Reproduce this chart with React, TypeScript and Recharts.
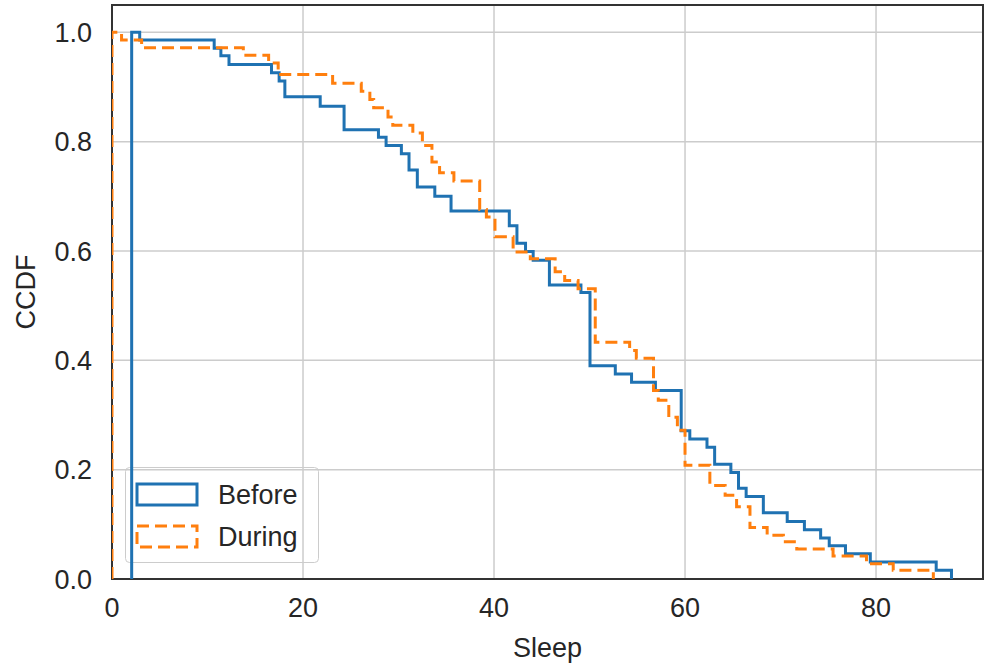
import React from 'react';
import { LineChart, Line, XAxis, YAxis, CartesianGrid, ReferenceArea } from 'recharts';

// step points of the complementary ECDF
const beforeX = [2.06, 2.06, 2.9, 10.7, 11.4, 12.25, 16.7, 17.5, 18.1, 21.8, 24.3, 27.9, 28.7, 30.3, 31.1, 31.97, 33.8, 35.5, 41.6, 42.4, 43.3, 44.1, 45.8, 49.1, 50.05, 52.7, 54.4, 56.9, 59.6, 60.5, 62.3, 63.1, 64.8, 65.6, 66.4, 68.2, 70.7, 72.5, 74.2, 75.1, 76.8, 79.4, 86.3, 87.9];
const beforeCcdf = [0, 1.0, 0.986, 0.971, 0.957, 0.941, 0.926, 0.911, 0.882, 0.865, 0.822, 0.808, 0.793, 0.778, 0.748, 0.717, 0.7, 0.673, 0.646, 0.614, 0.599, 0.583, 0.538, 0.524, 0.39, 0.375, 0.36, 0.345, 0.271, 0.256, 0.241, 0.21, 0.195, 0.166, 0.151, 0.121, 0.105, 0.09, 0.075, 0.061, 0.046, 0.031, 0.016, 0];

const duringX = [0, 0, 1.0, 3.1, 13.75, 16.4, 17.4, 23.1, 26.1, 27.0, 27.4, 28.9, 29.4, 31.5, 32.5, 33.5, 34.3, 35.8, 38.5, 39.2, 40.1, 42.0, 43.8, 46.4, 47.4, 48.8, 50.6, 54.2, 54.9, 56.7, 57.2, 58.3, 59.2, 60.0, 62.6, 64.2, 65.4, 66.8, 68.6, 70.3, 71.7, 75.5, 79.0, 81.8, 86.0];
const duringCcdf = [0, 1.0, 0.986, 0.972, 0.958, 0.944, 0.923, 0.907, 0.892, 0.877, 0.862, 0.845, 0.83, 0.816, 0.793, 0.763, 0.743, 0.728, 0.676, 0.662, 0.626, 0.598, 0.586, 0.562, 0.546, 0.531, 0.433, 0.418, 0.404, 0.345, 0.327, 0.296, 0.272, 0.208, 0.171, 0.153, 0.132, 0.094, 0.08, 0.068, 0.055, 0.042, 0.028, 0.016, 0];

const xTicks = [0, 20, 40, 60, 80];
const yTicks = [0, 0.2, 0.4, 0.6, 0.8, 1.0];
const X_MAX = 91.2;
const Y_MAX = 1.05;

const BLUE = '#1f72b2';
const ORANGE = '#ff7f0e';
const FONT = '"Liberation Sans", Arial, sans-serif';
const TEXT = '#262626';
const FS = 27;

const beforeData = beforeX.map((x, i) => ({ x, ccdf: beforeCcdf[i] }));
const duringData = duringX.map((x, i) => ({ x, ccdf: duringCcdf[i] }));

// legend sits under the chart svg, lines show through it like in the reference
const LegendBox = () => (
  <svg width={194} height={96} style={{ position: 'absolute', left: 125, top: 467 }}>
    <rect x={0.5} y={0.5} width={193} height={95} rx={4} fill="#fff" stroke="#cccccc" />
    <rect x={12} y={17} width={60} height={21} fill="none" stroke={BLUE} strokeWidth={3} />
    <text x={93} y={28} fontSize={FS} fill={TEXT} fontFamily={FONT} dominantBaseline="central">Before</text>
    <rect x={12} y={59} width={60} height={21} fill="none" stroke={ORANGE} strokeWidth={3} strokeDasharray="12 6" />
    <text x={93} y={70} fontSize={FS} fill={TEXT} fontFamily={FONT} dominantBaseline="central">During</text>
  </svg>
);

export default function App() {
  return (
    <div style={{ position: 'absolute', left: 0, top: 0, width: 985, height: 664, background: '#fff' }}>
      <LegendBox />
      <div style={{ position: 'absolute', left: 0, top: 0 }}>
        <LineChart width={985} height={664} margin={{ top: 5, right: 2, left: 0, bottom: 0 }}>
          <CartesianGrid stroke="#cccccc" strokeWidth={1.5} horizontalValues={yTicks} verticalValues={xTicks} />
          <XAxis
            type="number"
            dataKey="x"
            domain={[0, X_MAX]}
            ticks={xTicks}
            allowDataOverflow
            height={85}
            axisLine={false}
            tickLine={false}
            tickSize={0}
            tickMargin={19}
            tick={{ fontSize: FS, fill: TEXT, fontFamily: FONT }}
            label={{ value: 'Sleep', position: 'insideBottom', offset: 7, fontSize: FS, fill: TEXT, fontFamily: FONT }}
          />
          <YAxis
            type="number"
            domain={[0, Y_MAX]}
            ticks={yTicks}
            allowDataOverflow
            width={112}
            axisLine={false}
            tickLine={false}
            tickSize={0}
            tickMargin={20}
            tickFormatter={(v: number) => v.toFixed(1)}
            tick={{ fontSize: FS, fill: TEXT, fontFamily: FONT }}
            label={{
              content: ({ viewBox }: any) => (
                <text
                  x={26}
                  y={viewBox.y + viewBox.height / 2}
                  transform={`rotate(-90, 26, ${viewBox.y + viewBox.height / 2})`}
                  textAnchor="middle"
                  dominantBaseline="central"
                  fontSize={FS}
                  fill={TEXT}
                  fontFamily={FONT}
                >
                  CCDF
                </text>
              ),
            }}
          />
          <Line
            data={beforeData}
            dataKey="ccdf"
            name="Before"
            type="stepAfter"
            stroke={BLUE}
            strokeWidth={3}
            dot={false}
            isAnimationActive={false}
          />
          <Line
            data={duringData}
            dataKey="ccdf"
            name="During"
            type="stepAfter"
            stroke={ORANGE}
            strokeWidth={3}
            strokeDasharray="12 6"
            dot={false}
            isAnimationActive={false}
          />
          <ReferenceArea x1={0} x2={X_MAX} y1={0} y2={Y_MAX} fill="none" stroke="#333333" strokeWidth={2} />
        </LineChart>
      </div>
    </div>
  );
}
